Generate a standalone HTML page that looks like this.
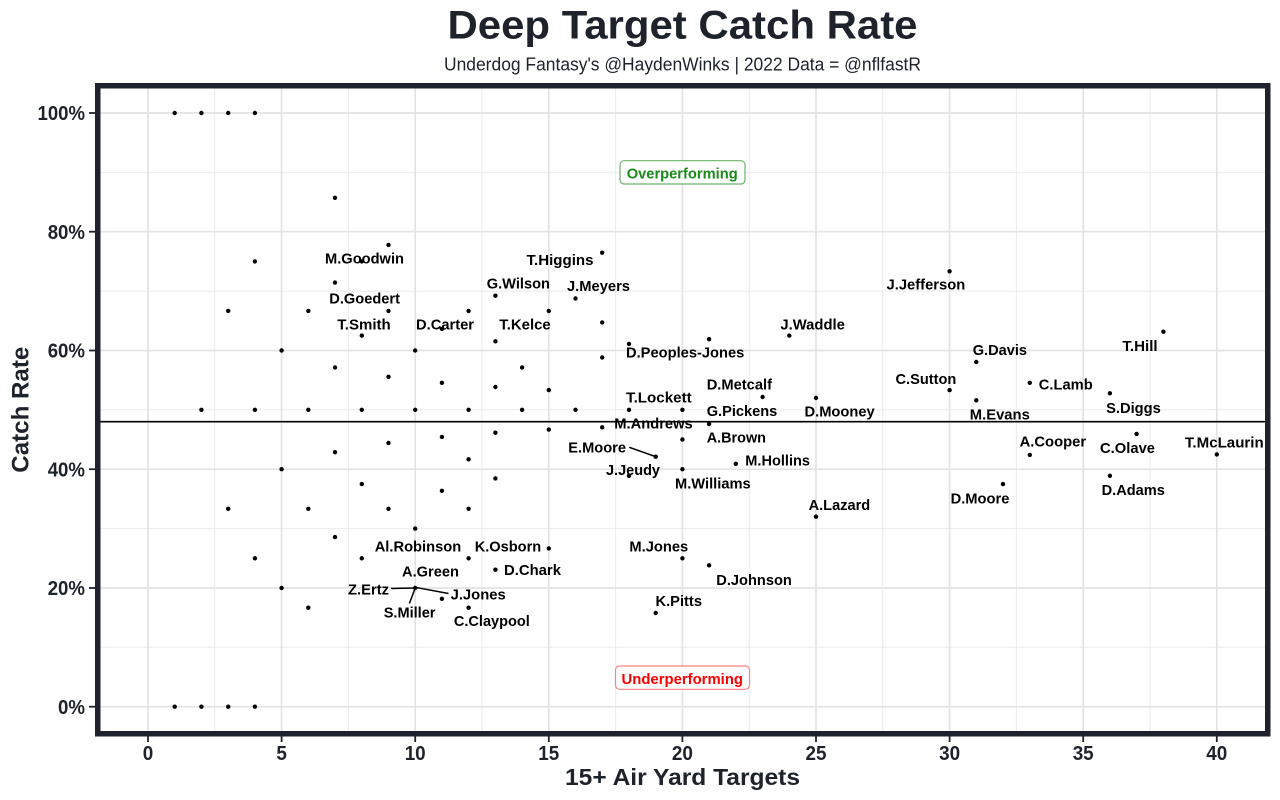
<!DOCTYPE html>
<html><head><meta charset="utf-8"><style>
html,body{margin:0;padding:0;background:#fff;}
svg{display:block;font-family:"Liberation Sans",Arial,sans-serif;}
.lb{font-weight:bold;font-size:15px;fill:#000;}
.tk{font-weight:bold;font-size:20px;fill:#1e222b;}
</style></head><body>
<svg width="1280" height="800" viewBox="0 0 1280 800" xmlns="http://www.w3.org/2000/svg">
<rect x="0" y="0" width="1280" height="800" fill="#fff"/>
<text x="682.5" y="38.3" text-anchor="middle" font-size="40" font-weight="bold" fill="#1e222b" textLength="470" lengthAdjust="spacingAndGlyphs">Deep Target Catch Rate</text>
<text x="682.5" y="70.7" text-anchor="middle" font-size="18" fill="#1e222b" textLength="477" lengthAdjust="spacingAndGlyphs">Underdog Fantasy's @HaydenWinks | 2022 Data = @nflfastR</text>
<g stroke="#ebebeb" stroke-width="1">
<line x1="214.8" y1="88" x2="214.8" y2="731"/><line x1="348.4" y1="88" x2="348.4" y2="731"/><line x1="482" y1="88" x2="482" y2="731"/><line x1="615.6" y1="88" x2="615.6" y2="731"/><line x1="749.2" y1="88" x2="749.2" y2="731"/><line x1="882.8" y1="88" x2="882.8" y2="731"/><line x1="1016.4" y1="88" x2="1016.4" y2="731"/><line x1="1150" y1="88" x2="1150" y2="731"/>
<line x1="100" y1="647.3" x2="1265" y2="647.3"/><line x1="100" y1="528.6" x2="1265" y2="528.6"/><line x1="100" y1="409.8" x2="1265" y2="409.8"/><line x1="100" y1="291.1" x2="1265" y2="291.1"/><line x1="100" y1="172.4" x2="1265" y2="172.4"/>
</g>
<g stroke="#e3e3e3" stroke-width="1.7">
<line x1="148" y1="88" x2="148" y2="731"/><line x1="281.6" y1="88" x2="281.6" y2="731"/><line x1="415.2" y1="88" x2="415.2" y2="731"/><line x1="548.8" y1="88" x2="548.8" y2="731"/><line x1="682.4" y1="88" x2="682.4" y2="731"/><line x1="816" y1="88" x2="816" y2="731"/><line x1="949.6" y1="88" x2="949.6" y2="731"/><line x1="1083.2" y1="88" x2="1083.2" y2="731"/><line x1="1216.8" y1="88" x2="1216.8" y2="731"/>
<line x1="100" y1="706.7" x2="1265" y2="706.7"/><line x1="100" y1="588" x2="1265" y2="588"/><line x1="100" y1="469.2" x2="1265" y2="469.2"/><line x1="100" y1="350.5" x2="1265" y2="350.5"/><line x1="100" y1="231.7" x2="1265" y2="231.7"/><line x1="100" y1="113" x2="1265" y2="113"/>
</g>
<line x1="100" y1="421.7" x2="1265" y2="421.7" stroke="#000" stroke-width="1.6"/>
<rect x="620" y="160.7" width="125" height="23.3" rx="4" fill="#fff" stroke="#6ab46a" stroke-width="1.2"/>
<text x="626.7" y="178.5" font-size="15" font-weight="bold" fill="#1a8a1a" textLength="111" lengthAdjust="spacingAndGlyphs">Overperforming</text>
<rect x="615.5" y="666" width="134" height="23.3" rx="4" fill="#fff" stroke="#ff8080" stroke-width="1.2"/>
<text x="621.5" y="683.8" font-size="15" font-weight="bold" fill="#ff0000" textLength="121.5" lengthAdjust="spacingAndGlyphs">Underperforming</text>
<g fill="#000">
<circle cx="174.7" cy="113" r="2.2"/><circle cx="201.4" cy="113" r="2.2"/><circle cx="228.2" cy="113" r="2.2"/><circle cx="254.9" cy="113" r="2.2"/>
<circle cx="174.7" cy="706.7" r="2.2"/><circle cx="201.4" cy="706.7" r="2.2"/><circle cx="228.2" cy="706.7" r="2.2"/><circle cx="254.9" cy="706.7" r="2.2"/>
<circle cx="201.4" cy="409.8" r="2.2"/>
<circle cx="228.2" cy="310.9" r="2.2"/><circle cx="228.2" cy="508.8" r="2.2"/>
<circle cx="254.9" cy="261.4" r="2.2"/><circle cx="254.9" cy="409.8" r="2.2"/><circle cx="254.9" cy="558.3" r="2.2"/>
<circle cx="281.6" cy="350.5" r="2.2"/><circle cx="281.6" cy="469.2" r="2.2"/><circle cx="281.6" cy="588" r="2.2"/>
<circle cx="308.3" cy="310.9" r="2.2"/><circle cx="308.3" cy="409.8" r="2.2"/><circle cx="308.3" cy="508.8" r="2.2"/><circle cx="308.3" cy="607.7" r="2.2"/>
<circle cx="335" cy="197.8" r="2.2"/><circle cx="335" cy="282.6" r="2.2"/><circle cx="335" cy="367.5" r="2.2"/><circle cx="335" cy="452.2" r="2.2"/><circle cx="335" cy="537.1" r="2.2"/>
<circle cx="361.8" cy="261.4" r="2.2"/><circle cx="361.8" cy="335.6" r="2.2"/><circle cx="361.8" cy="409.8" r="2.2"/><circle cx="361.8" cy="484.1" r="2.2"/><circle cx="361.8" cy="558.3" r="2.2"/>
<circle cx="388.5" cy="244.9" r="2.2"/><circle cx="388.5" cy="310.9" r="2.2"/><circle cx="388.5" cy="376.8" r="2.2"/><circle cx="388.5" cy="442.9" r="2.2"/><circle cx="388.5" cy="508.8" r="2.2"/>
<circle cx="415.2" cy="350.5" r="2.2"/><circle cx="415.2" cy="409.8" r="2.2"/><circle cx="415.2" cy="528.6" r="2.2"/><circle cx="415.2" cy="588" r="2.2"/>
<circle cx="441.9" cy="328.9" r="2.2"/><circle cx="441.9" cy="382.8" r="2.2"/><circle cx="441.9" cy="436.9" r="2.2"/><circle cx="441.9" cy="490.8" r="2.2"/><circle cx="441.9" cy="598.8" r="2.2"/>
<circle cx="468.6" cy="310.9" r="2.2"/><circle cx="468.6" cy="409.8" r="2.2"/><circle cx="468.6" cy="459.3" r="2.2"/><circle cx="468.6" cy="508.8" r="2.2"/><circle cx="468.6" cy="558.3" r="2.2"/><circle cx="468.6" cy="607.7" r="2.2"/>
<circle cx="495.4" cy="295.7" r="2.2"/><circle cx="495.4" cy="341.3" r="2.2"/><circle cx="495.4" cy="387" r="2.2"/><circle cx="495.4" cy="432.7" r="2.2"/><circle cx="495.4" cy="478.4" r="2.2"/><circle cx="495.4" cy="569.7" r="2.2"/>
<circle cx="522.1" cy="367.5" r="2.2"/><circle cx="522.1" cy="409.8" r="2.2"/>
<circle cx="548.8" cy="310.9" r="2.2"/><circle cx="548.8" cy="390.1" r="2.2"/><circle cx="548.8" cy="429.6" r="2.2"/><circle cx="548.8" cy="548.4" r="2.2"/>
<circle cx="575.5" cy="298.5" r="2.2"/><circle cx="575.5" cy="409.8" r="2.2"/>
<circle cx="602.2" cy="252.7" r="2.2"/><circle cx="602.2" cy="322.5" r="2.2"/><circle cx="602.2" cy="357.5" r="2.2"/><circle cx="602.2" cy="427.3" r="2.2"/>
<circle cx="629" cy="343.9" r="2.2"/><circle cx="629" cy="409.8" r="2.2"/><circle cx="629" cy="475.8" r="2.2"/>
<circle cx="655.7" cy="456.7" r="2.2"/><circle cx="655.7" cy="613" r="2.2"/>
<circle cx="682.4" cy="409.8" r="2.2"/><circle cx="682.4" cy="439.5" r="2.2"/><circle cx="682.4" cy="469.2" r="2.2"/><circle cx="682.4" cy="558.3" r="2.2"/>
<circle cx="709.1" cy="339.2" r="2.2"/><circle cx="709.1" cy="424" r="2.2"/><circle cx="709.1" cy="565.3" r="2.2"/>
<circle cx="735.8" cy="463.8" r="2.2"/>
<circle cx="762.6" cy="397" r="2.2"/>
<circle cx="789.3" cy="335.6" r="2.2"/>
<circle cx="816" cy="398" r="2.2"/><circle cx="816" cy="516.7" r="2.2"/>
<circle cx="949.6" cy="271.3" r="2.2"/><circle cx="949.6" cy="390.1" r="2.2"/>
<circle cx="976.3" cy="362" r="2.2"/><circle cx="976.3" cy="400.3" r="2.2"/>
<circle cx="1003" cy="484.1" r="2.2"/>
<circle cx="1029.8" cy="382.8" r="2.2"/><circle cx="1029.8" cy="454.9" r="2.2"/>
<circle cx="1109.9" cy="393.3" r="2.2"/><circle cx="1109.9" cy="475.8" r="2.2"/>
<circle cx="1136.6" cy="433.9" r="2.2"/>
<circle cx="1163.4" cy="331.7" r="2.2"/>
<circle cx="1216.8" cy="454.4" r="2.2"/>
</g>
<g stroke="#000" stroke-width="1.5" fill="none">
<line x1="629.3" y1="447.3" x2="655.7" y2="456.7"/>
<line x1="391" y1="588.5" x2="415.2" y2="588"/>
<line x1="415.2" y1="587.3" x2="448.5" y2="593.5"/>
<line x1="415.2" y1="588" x2="409.4" y2="603.5"/>
</g>
<g class="lb">
<text x="325" y="263.5" textLength="79" lengthAdjust="spacingAndGlyphs">M.Goodwin</text>
<text x="329.3" y="303.3" textLength="70.7" lengthAdjust="spacingAndGlyphs">D.Goedert</text>
<text x="526.5" y="265" textLength="67" lengthAdjust="spacingAndGlyphs">T.Higgins</text>
<text x="486.7" y="288.3" textLength="63.3" lengthAdjust="spacingAndGlyphs">G.Wilson</text>
<text x="567" y="291" textLength="63" lengthAdjust="spacingAndGlyphs">J.Meyers</text>
<text x="886.5" y="289.5" textLength="78.8" lengthAdjust="spacingAndGlyphs">J.Jefferson</text>
<text x="337.3" y="329.3" textLength="53.4" lengthAdjust="spacingAndGlyphs">T.Smith</text>
<text x="416" y="329.3" textLength="58" lengthAdjust="spacingAndGlyphs">D.Carter</text>
<text x="499.3" y="329.3" textLength="51.4" lengthAdjust="spacingAndGlyphs">T.Kelce</text>
<text x="780.4" y="329.3" textLength="64.5" lengthAdjust="spacingAndGlyphs">J.Waddle</text>
<text x="626" y="357.7" textLength="118.3" lengthAdjust="spacingAndGlyphs">D.Peoples-Jones</text>
<text x="972.7" y="355" textLength="54.3" lengthAdjust="spacingAndGlyphs">G.Davis</text>
<text x="1122.4" y="351" textLength="35.2" lengthAdjust="spacingAndGlyphs">T.Hill</text>
<text x="895.5" y="384" textLength="60.8" lengthAdjust="spacingAndGlyphs">C.Sutton</text>
<text x="706.7" y="389.3" textLength="65.3" lengthAdjust="spacingAndGlyphs">D.Metcalf</text>
<text x="1038.8" y="389.3" textLength="53.9" lengthAdjust="spacingAndGlyphs">C.Lamb</text>
<text x="626" y="402.3" textLength="65.7" lengthAdjust="spacingAndGlyphs">T.Lockett</text>
<text x="706.7" y="416" textLength="70.6" lengthAdjust="spacingAndGlyphs">G.Pickens</text>
<text x="804.5" y="416.5" textLength="70.2" lengthAdjust="spacingAndGlyphs">D.Mooney</text>
<text x="1106.1" y="413" textLength="54.7" lengthAdjust="spacingAndGlyphs">S.Diggs</text>
<text x="969.8" y="419.5" textLength="60" lengthAdjust="spacingAndGlyphs">M.Evans</text>
<text x="614.3" y="428.7" textLength="78.4" lengthAdjust="spacingAndGlyphs">M.Andrews</text>
<text x="706.7" y="442.3" textLength="59.3" lengthAdjust="spacingAndGlyphs">A.Brown</text>
<text x="1019.6" y="446.5" textLength="66.5" lengthAdjust="spacingAndGlyphs">A.Cooper</text>
<text x="1100" y="453" textLength="55" lengthAdjust="spacingAndGlyphs">C.Olave</text>
<text x="1184.9" y="447.3" textLength="78.8" lengthAdjust="spacingAndGlyphs">T.McLaurin</text>
<text x="568.3" y="452.3" textLength="57.7" lengthAdjust="spacingAndGlyphs">E.Moore</text>
<text x="745.3" y="465.7" textLength="64.7" lengthAdjust="spacingAndGlyphs">M.Hollins</text>
<text x="606" y="475" textLength="54" lengthAdjust="spacingAndGlyphs">J.Jeudy</text>
<text x="675" y="488.7" textLength="75.7" lengthAdjust="spacingAndGlyphs">M.Williams</text>
<text x="950.6" y="503.3" textLength="58.8" lengthAdjust="spacingAndGlyphs">D.Moore</text>
<text x="1101.6" y="495" textLength="63.3" lengthAdjust="spacingAndGlyphs">D.Adams</text>
<text x="808.6" y="510" textLength="61.6" lengthAdjust="spacingAndGlyphs">A.Lazard</text>
<text x="374.7" y="551.7" textLength="86.5" lengthAdjust="spacingAndGlyphs">Al.Robinson</text>
<text x="474.7" y="551.7" textLength="66.5" lengthAdjust="spacingAndGlyphs">K.Osborn</text>
<text x="629.4" y="551.7" textLength="58.8" lengthAdjust="spacingAndGlyphs">M.Jones</text>
<text x="402" y="576.7" textLength="57" lengthAdjust="spacingAndGlyphs">A.Green</text>
<text x="504" y="575" textLength="57" lengthAdjust="spacingAndGlyphs">D.Chark</text>
<text x="716.3" y="585" textLength="75.5" lengthAdjust="spacingAndGlyphs">D.Johnson</text>
<text x="348" y="594.3" textLength="41" lengthAdjust="spacingAndGlyphs">Z.Ertz</text>
<text x="450.6" y="599.5" textLength="55.1" lengthAdjust="spacingAndGlyphs">J.Jones</text>
<text x="383.7" y="617.7" textLength="51.8" lengthAdjust="spacingAndGlyphs">S.Miller</text>
<text x="655.5" y="606" textLength="46.5" lengthAdjust="spacingAndGlyphs">K.Pitts</text>
<text x="453.9" y="626" textLength="75.9" lengthAdjust="spacingAndGlyphs">C.Claypool</text>
</g>
<rect x="97.75" y="85.75" width="1170" height="648" fill="none" stroke="#1e222c" stroke-width="5.5"/>
<g stroke="#1e222c" stroke-width="1.8">
<line x1="89" y1="706.7" x2="95" y2="706.7"/><line x1="89" y1="588" x2="95" y2="588"/><line x1="89" y1="469.2" x2="95" y2="469.2"/><line x1="89" y1="350.5" x2="95" y2="350.5"/><line x1="89" y1="231.7" x2="95" y2="231.7"/><line x1="89" y1="113" x2="95" y2="113"/>
<line x1="148" y1="736.5" x2="148" y2="742"/><line x1="281.6" y1="736.5" x2="281.6" y2="742"/><line x1="415.2" y1="736.5" x2="415.2" y2="742"/><line x1="548.8" y1="736.5" x2="548.8" y2="742"/><line x1="682.4" y1="736.5" x2="682.4" y2="742"/><line x1="816" y1="736.5" x2="816" y2="742"/><line x1="949.6" y1="736.5" x2="949.6" y2="742"/><line x1="1083.2" y1="736.5" x2="1083.2" y2="742"/><line x1="1216.8" y1="736.5" x2="1216.8" y2="742"/>
</g>
<g class="tk" text-anchor="end">
<text x="85" y="713.8" textLength="27" lengthAdjust="spacingAndGlyphs">0%</text>
<text x="85" y="595.1" textLength="37.3" lengthAdjust="spacingAndGlyphs">20%</text>
<text x="85" y="476.3" textLength="37.3" lengthAdjust="spacingAndGlyphs">40%</text>
<text x="85" y="357.6" textLength="37.3" lengthAdjust="spacingAndGlyphs">60%</text>
<text x="85" y="238.8" textLength="37.3" lengthAdjust="spacingAndGlyphs">80%</text>
<text x="85" y="120.1" textLength="47.5" lengthAdjust="spacingAndGlyphs">100%</text>
</g>
<g class="tk" text-anchor="middle">
<text x="148" y="760" textLength="10.5" lengthAdjust="spacingAndGlyphs">0</text>
<text x="281.6" y="760" textLength="10.5" lengthAdjust="spacingAndGlyphs">5</text>
<text x="415.2" y="760" textLength="21" lengthAdjust="spacingAndGlyphs">10</text>
<text x="548.8" y="760" textLength="21" lengthAdjust="spacingAndGlyphs">15</text>
<text x="682.4" y="760" textLength="21" lengthAdjust="spacingAndGlyphs">20</text>
<text x="816" y="760" textLength="21" lengthAdjust="spacingAndGlyphs">25</text>
<text x="949.6" y="760" textLength="21" lengthAdjust="spacingAndGlyphs">30</text>
<text x="1083.2" y="760" textLength="21" lengthAdjust="spacingAndGlyphs">35</text>
<text x="1216.8" y="760" textLength="21" lengthAdjust="spacingAndGlyphs">40</text>
</g>
<text x="682.5" y="785" text-anchor="middle" font-size="23" font-weight="bold" fill="#1e222b" textLength="235" lengthAdjust="spacingAndGlyphs">15+ Air Yard Targets</text>
<text transform="translate(28.5,409.7) rotate(-90)" x="0" y="0" text-anchor="middle" font-size="24" font-weight="bold" fill="#1e222b" textLength="126" lengthAdjust="spacingAndGlyphs">Catch Rate</text>
</svg>
</body></html>
